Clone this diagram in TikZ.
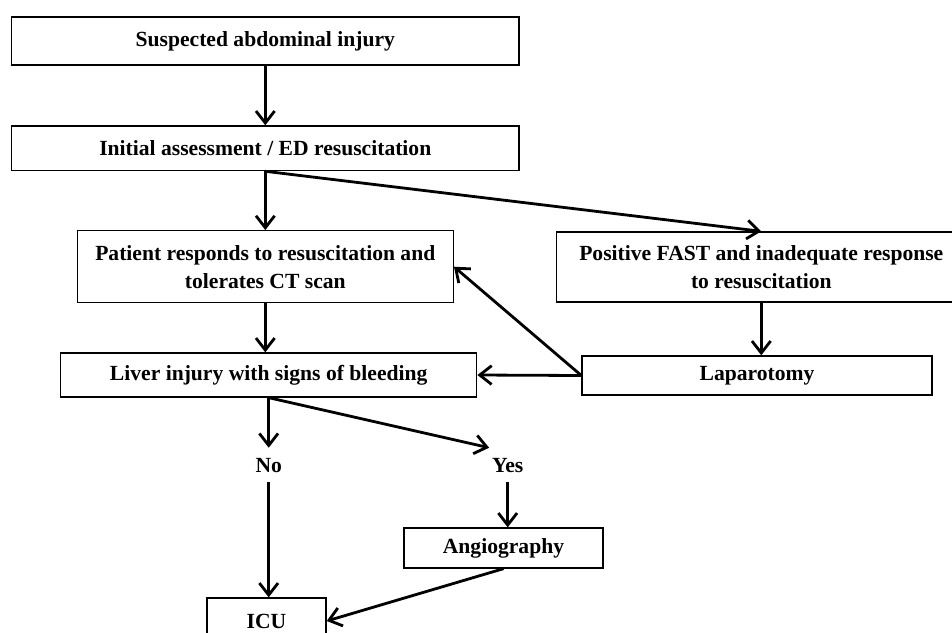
\documentclass[tikz,border=0pt]{standalone}
\usepackage{fontspec}
\setmainfont{Liberation Serif}
\usetikzlibrary{arrows.meta}

\tikzset{
  box/.style={draw, line width=1pt, align=center, inner sep=0pt, font=\bfseries\fontsize{16.2}{21}\selectfont},
  lbl/.style={inner xsep=2pt, inner ysep=7.5pt, text height=10.5pt, text depth=0pt, font=\bfseries\fontsize{16.2}{21}\selectfont},
  arr/.style={-{Straight Barb[length=9pt,width=14pt]}, line width=2.1pt}
}

\begin{document}
\begin{tikzpicture}[x=0.75pt,y=-0.75pt]
      \useasboundingbox (0,0) rectangle (952,632);
      \node[box, minimum width=380.3pt, minimum height=36pt] (susp) at (265.3,41) {Suspected abdominal injury};
      \node[box, minimum width=380.3pt, minimum height=33.5pt] (init) at (265.3,148.3) {Initial assessment / ED resuscitation};
      \node[box, minimum width=282pt, minimum height=54pt] (resp) at (265.3,266.7) {Patient responds to resuscitation and\\tolerates CT scan};
      \node[box, minimum width=307.5pt, minimum height=52.5pt] (fast) at (761.3,267) {Positive FAST and inadequate response\\to resuscitation};
      \node[box, minimum width=262.5pt, minimum height=29.3pt] (lap) at (757,375.5) {Laparotomy};
      \node[box, minimum width=312pt, minimum height=33pt] (liver) at (268.7,375) {Liver injury with signs of bleeding};
      \node[lbl] (no) at (268.7,465) {No};
      \node[lbl] (yes) at (507.7,465) {Yes};
      \node[box, minimum width=149.3pt, minimum height=30pt] (angio) at (503.5,548) {Angiography};
      \node[box, minimum width=89.3pt, minimum height=34.5pt] (icu) at (266.5,621) {ICU};
      \draw[arr] (susp.south) -- (susp.south |- init.north);
      \draw[arr] (init.south) -- (init.south |- resp.north);
      \draw[arr] (init.south) -- (fast.north);
      \draw[arr] (resp.south) -- (resp.south |- liver.north);
      \draw[arr] (fast.south) -- (fast.south |- lap.north);
      \draw[arr] (lap.west) -- (liver.east);
      \draw[arr] (lap.west) -- (resp.east);
      \draw[arr] (liver.south) -- (no.north);
      \draw[arr] (liver.south) -- (yes.north west);
      \draw[arr] (no.south) -- (no.south |- icu.north);
      \draw[arr] (yes.south) -- (yes.south |- angio.north);
      \draw[arr] (angio.south) -- (icu.east);
    \end{tikzpicture}
\end{document}
